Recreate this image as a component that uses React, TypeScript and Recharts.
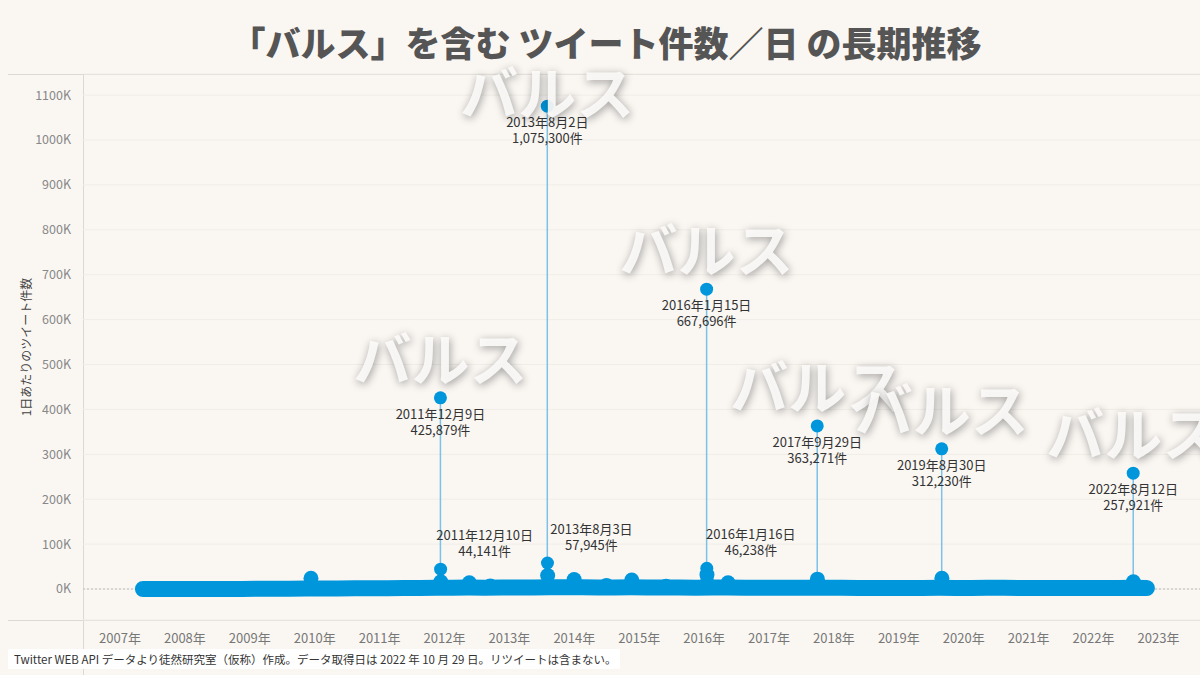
import {
  CartesianGrid,
  ComposedChart,
  Line,
  ReferenceLine,
  Scatter,
  XAxis,
  YAxis,
} from 'recharts';

// 年ラベル（各年1月1日の位置）
const yearTicks = [
  2007, 2008, 2009, 2010, 2011, 2012, 2013, 2014, 2015, 2016, 2017, 2018, 2019, 2020, 2021, 2022,
  2023,
];
const countTicks = [
  0, 100000, 200000, 300000, 400000, 500000, 600000, 700000, 800000, 900000, 1000000, 1100000,
];

// 平常日のツイート件数（四半期ごとの目安）
const baselineDays = [
  { date: '2007-05-10', count: 40 },
  { date: '2007-08-15', count: 60 },
  { date: '2007-11-15', count: 90 },
  { date: '2008-02-15', count: 120 },
  { date: '2008-05-15', count: 160 },
  { date: '2008-08-15', count: 220 },
  { date: '2008-11-15', count: 300 },
  { date: '2009-02-15', count: 380 },
  { date: '2009-05-15', count: 520 },
  { date: '2009-08-15', count: 700 },
  { date: '2009-11-15', count: 900 },
  { date: '2010-02-15', count: 1100 },
  { date: '2010-05-15', count: 1300 },
  { date: '2010-08-15', count: 1500 },
  { date: '2010-11-15', count: 1700 },
  { date: '2011-02-15', count: 1900 },
  { date: '2011-05-15', count: 2100 },
  { date: '2011-08-15', count: 2300 },
  { date: '2011-11-15', count: 2600 },
  { date: '2012-02-15', count: 3000 },
  { date: '2012-05-15', count: 3200 },
  { date: '2012-08-15', count: 3100 },
  { date: '2012-11-15', count: 3300 },
  { date: '2013-02-15', count: 3500 },
  { date: '2013-05-15', count: 3600 },
  { date: '2013-08-15', count: 4200 },
  { date: '2013-11-15', count: 3900 },
  { date: '2014-02-15', count: 3800 },
  { date: '2014-05-15', count: 3600 },
  { date: '2014-08-15', count: 3500 },
  { date: '2014-11-15', count: 3700 },
  { date: '2015-02-15', count: 3400 },
  { date: '2015-05-15', count: 3300 },
  { date: '2015-08-15', count: 3200 },
  { date: '2015-11-15', count: 3100 },
  { date: '2016-02-15', count: 3600 },
  { date: '2016-05-15', count: 3300 },
  { date: '2016-08-15', count: 3000 },
  { date: '2016-11-15', count: 2900 },
  { date: '2017-02-15', count: 2800 },
  { date: '2017-05-15', count: 2700 },
  { date: '2017-08-15', count: 2800 },
  { date: '2017-11-15', count: 2900 },
  { date: '2018-02-15', count: 2600 },
  { date: '2018-05-15', count: 2500 },
  { date: '2018-08-15', count: 2500 },
  { date: '2018-11-15', count: 2400 },
  { date: '2019-02-15', count: 2400 },
  { date: '2019-05-15', count: 2300 },
  { date: '2019-08-15', count: 2700 },
  { date: '2019-11-15', count: 2400 },
  { date: '2020-02-15', count: 2500 },
  { date: '2020-05-15', count: 2700 },
  { date: '2020-08-15', count: 2600 },
  { date: '2020-11-15', count: 2500 },
  { date: '2021-02-15', count: 2400 },
  { date: '2021-05-15', count: 2300 },
  { date: '2021-08-15', count: 2300 },
  { date: '2021-11-15', count: 2200 },
  { date: '2022-02-15', count: 2200 },
  { date: '2022-05-15', count: 2100 },
  { date: '2022-08-15', count: 2600 },
  { date: '2022-10-28', count: 2100 },
];

// 平常より少し多い日（帯から少し飛び出している点）
const bumpDays = [
  { date: '2009-12-11', count: 24000 },
  { date: '2011-12-11', count: 16000 },
  { date: '2012-05-20', count: 14000 },
  { date: '2012-09-15', count: 7000 },
  { date: '2013-08-04', count: 30000 },
  { date: '2013-08-05', count: 12000 },
  { date: '2013-12-31', count: 21000 },
  { date: '2014-07-01', count: 8000 },
  { date: '2014-11-20', count: 20000 },
  { date: '2015-06-01', count: 6000 },
  { date: '2016-01-17', count: 32000 },
  { date: '2016-01-18', count: 14000 },
  { date: '2016-05-15', count: 14000 },
  { date: '2017-09-30', count: 22000 },
  { date: '2019-08-31', count: 24000 },
  { date: '2022-08-13', count: 16000 },
];

// 放送翌日
const afterDays = [
  { date: '2011-12-10', count: 44141 },
  { date: '2013-08-03', count: 57945 },
  { date: '2016-01-16', count: 46238 },
];

// 放送当日（バルスの瞬間）
const peakDays = [
  { date: '2011-12-09', count: 425879 },
  { date: '2013-08-02', count: 1075300 },
  { date: '2016-01-15', count: 667696 },
  { date: '2017-09-29', count: 363271 },
  { date: '2019-08-30', count: 312230 },
  { date: '2022-08-12', count: 257921 },
];

const BLUE = '#0096dc';
const STEM = '#7cc1e7';
const FONT = '"Noto Sans CJK JP", "Noto Sans", sans-serif';

function toYear(date: string) {
  const [y, m, d] = date.split('-').map(Number);
  const start = Date.UTC(y, 0, 1);
  const end = Date.UTC(y + 1, 0, 1);
  return y + (Date.UTC(y, m - 1, d) - start) / (end - start);
}

function withT(rows: { date: string; count: number }[]) {
  return rows.map((r) => ({ ...r, t: toYear(r.date) }));
}

function jpDate(date: string) {
  const [y, m, d] = date.split('-').map(Number);
  return `${y}年${m}月${d}日`;
}

function jpCount(n: number) {
  return `${n.toLocaleString('en-US')}件`;
}

const baseline = withT(baselineDays);
const bumps = withT(bumpDays);
const afters = withT(afterDays);
const peaks = withT(peakDays);

function BumpDot(props: any) {
  const { cx, cy } = props;
  if (cx == null || cy == null) return <g />;
  return <circle cx={cx} cy={cy} r={7.5} fill={BLUE} />;
}

function AfterDot(props: any) {
  const { cx, cy, payload } = props;
  if (cx == null || cy == null) return <g />;
  return (
    <g>
      <circle cx={cx} cy={cy} r={6.5} fill={BLUE} />
      <text x={cx + 44} y={cy - 29} textAnchor="middle" fontSize={13} fill="#333" fontFamily={FONT}>
        {jpDate(payload.date)}
      </text>
      <text x={cx + 44} y={cy - 13} textAnchor="middle" fontSize={13} fill="#333" fontFamily={FONT}>
        {jpCount(payload.count)}
      </text>
    </g>
  );
}

function PeakDot(props: any) {
  const { cx, cy, payload } = props;
  if (cx == null || cy == null) return <g />;
  return (
    <g>
      <circle cx={cx} cy={cy} r={6.5} fill={BLUE} />
      <text x={cx} y={cy + 21} textAnchor="middle" fontSize={13} fill="#333" fontFamily={FONT}>
        {jpDate(payload.date)}
      </text>
      <text x={cx} y={cy + 37} textAnchor="middle" fontSize={13} fill="#333" fontFamily={FONT}>
        {jpCount(payload.count)}
      </text>
    </g>
  );
}

function BalseText(props: any) {
  const { cx, cy } = props;
  if (cx == null || cy == null) return <g />;
  const y = Math.max(cy - 42, 90);
  return (
    <text
      x={cx}
      y={y}
      textAnchor="middle"
      dominantBaseline="central"
      fontSize={58}
      fontWeight={700}
      fill="#fbfaf7"
      fillOpacity={0.92}
      fontFamily={FONT}
      style={{ filter: 'drop-shadow(1px 2px 4px rgba(0,0,0,0.4))' }}
    >
      バルス
    </text>
  );
}

export default function App() {
  return (
    <div
      style={{
        position: 'absolute',
        left: 0,
        top: 0,
        width: 1200,
        height: 675,
        background: '#faf7f3',
        fontFamily: FONT,
        overflow: 'hidden',
      }}
    >
      <div
        style={{
          position: 'absolute',
          left: 0,
          top: 16,
          width: 1212,
          textAlign: 'center',
          fontSize: 35,
          fontWeight: 900,
          color: '#555',
          whiteSpace: 'pre',
        }}
      >
        「バルス」を含む ツイート件数／日 の長期推移
      </div>
      <div style={{ position: 'absolute', left: 8, top: 74, width: 1192, height: 1, background: '#ddd8d2' }} />
      <div style={{ position: 'absolute', left: 8, top: 620, width: 1192, height: 1, background: '#ddd8d2' }} />
      <div style={{ position: 'absolute', left: 83, top: 74, width: 1, height: 601, background: '#ddd8d2' }} />
      <ComposedChart
        width={1200}
        height={675}
        margin={{ top: 74, right: 0, bottom: 0, left: 0 }}
        style={{ position: 'absolute', left: 0, top: 0 }}
      >
        <CartesianGrid vertical={false} stroke="#f0ece6" />
        <XAxis
          dataKey="t"
          type="number"
          domain={[2006.43, 2023.64]}
          ticks={yearTicks}
          tickFormatter={(v: number) => `${v}年`}
          axisLine={false}
          tickLine={false}
          tick={{ fontSize: 13, fill: '#777', fontFamily: FONT }}
          tickMargin={8}
          height={55}
        />
        <YAxis
          dataKey="count"
          type="number"
          domain={[-69000, 1147000]}
          ticks={countTicks}
          tickFormatter={(v: number) => `${v / 1000}K`}
          axisLine={false}
          tickLine={false}
          tick={{ fontSize: 12.5, fill: '#888', fontFamily: FONT }}
          tickMargin={6}
          width={83}
          label={{
            value: '1日あたりのツイート件数',
            angle: -90,
            position: 'insideLeft',
            offset: 27,
            style: { fontSize: 12, fill: '#444', fontFamily: FONT, textAnchor: 'middle' },
          }}
        />
        <ReferenceLine y={0} stroke="#bbb" strokeDasharray="2 2" />
        {peaks.map((p) => (
          <ReferenceLine
            key={p.date}
            segment={[
              { x: p.t, y: 0 },
              { x: p.t, y: p.count },
            ]}
            stroke={STEM}
            strokeWidth={1.5}
          />
        ))}
        <Line
          data={baseline}
          dataKey="count"
          stroke={BLUE}
          strokeWidth={16}
          strokeLinecap="round"
          strokeLinejoin="round"
          dot={false}
          activeDot={false}
          isAnimationActive={false}
        />
        <Scatter data={bumps} dataKey="count" shape={BumpDot} isAnimationActive={false} />
        <Scatter data={afters} dataKey="count" shape={AfterDot} isAnimationActive={false} />
        <Scatter data={peaks} dataKey="count" shape={PeakDot} isAnimationActive={false} />
        <Scatter data={peaks} dataKey="count" shape={BalseText} isAnimationActive={false} />
      </ComposedChart>
      <div
        style={{
          position: 'absolute',
          left: 8,
          top: 649,
          width: 600,
          padding: '2px 6px',
          background: '#ffffff',
          fontSize: 11.5,
          color: '#333',
          whiteSpace: 'nowrap',
        }}
      >
        Twitter WEB API データより徒然研究室（仮称）作成。データ取得日は 2022 年 10 月 29 日。リツイートは含まない。
      </div>
    </div>
  );
}
